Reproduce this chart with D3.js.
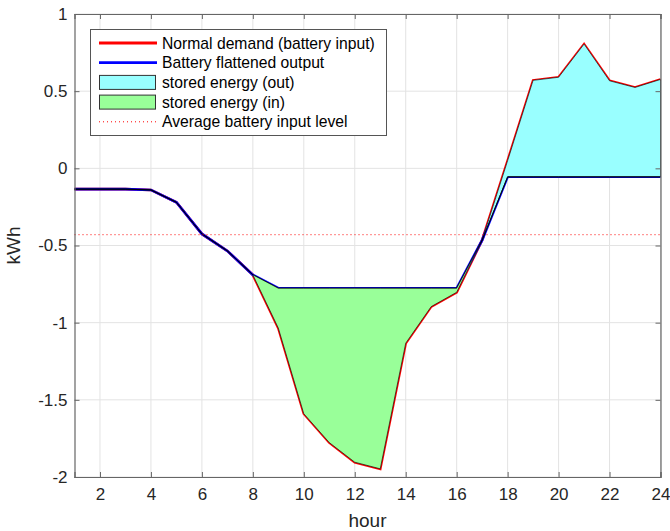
<!DOCTYPE html>
<html><head><meta charset="utf-8">
<script src="https://cdn.jsdelivr.net/npm/d3@7"></script>
<style>body{margin:0;background:#fff;} svg{display:block;font-family:"Liberation Sans",Arial,sans-serif;}</style>
</head><body>
<script>
const hours = d3.range(1, 25);
const normalDemand = [-0.135,-0.135,-0.135,-0.14,-0.22,-0.425,-0.535,-0.69,-1.035,-1.59,-1.777,-1.904,-1.947,-1.133,-0.896,-0.803,-0.465,0.05,0.57,0.59,0.805,0.567,0.524,0.576];
const flattened = [-0.135,-0.135,-0.135,-0.14,-0.22,-0.425,-0.535,-0.69,-0.777,-0.777,-0.777,-0.777,-0.777,-0.777,-0.777,-0.777,-0.465,-0.055,-0.055,-0.055,-0.055,-0.055,-0.055,-0.055];
const avgLevel = -0.43;
const xTicks = [2,4,6,8,10,12,14,16,18,20,22,24];
const yTicks = [1,0.5,0,-0.5,-1,-1.5,-2];
const legendLabels = ["Normal demand (battery input)","Battery flattened output","stored energy (out)","stored energy (in)","Average battery input level"];

const W = 670, H = 531;
const m = {left: 74.5, right: 9.5, top: 14, bottom: 54};
const svg = d3.select("body").append("svg").attr("width", W).attr("height", H);
const x = d3.scaleLinear().domain([1,24]).range([m.left, W - m.right]);
const y = d3.scaleLinear().domain([-2,1]).range([H - m.bottom, m.top]);
const axisColor = "#666", textColor = "#262626";

// grid
const g = svg.append("g");
g.selectAll(".gx").data(xTicks).join("line").attr("x1", d=>x(d)).attr("x2", d=>x(d)).attr("y1", y(-2)).attr("y2", y(1)).attr("stroke", "#e3e3e3");
g.selectAll(".gy").data(yTicks).join("line").attr("y1", d=>y(d)).attr("y2", d=>y(d)).attr("x1", x(1)).attr("x2", x(24)).attr("stroke", "#e3e3e3");

const data = hours.map((h,i)=>({h, r: normalDemand[i], b: flattened[i]}));
// lines
const line = (key)=>d3.line().x(d=>x(d.h)).y(d=>y(d[key]));
svg.append("path").datum(data).attr("d", line("r")).attr("fill","none").attr("stroke","#ff0000").attr("stroke-width",2.6);
svg.append("path").datum(data).attr("d", line("b")).attr("fill","none").attr("stroke","#0000ff").attr("stroke-width",2.6);
// fills
const outArea = d3.area().x(d=>x(d.h)).y0(d=>y(d.b)).y1(d=>y(Math.max(d.r,d.b)));
const inArea = d3.area().x(d=>x(d.h)).y0(d=>y(d.b)).y1(d=>y(Math.min(d.r,d.b)));
svg.append("path").datum(data).attr("d", outArea).attr("fill","#99ffff").attr("stroke","#000").attr("stroke-width",0.6);
svg.append("path").datum(data).attr("d", inArea).attr("fill","#99ff99").attr("stroke","#000").attr("stroke-width",0.6);
// average
svg.append("line").attr("x1", x(1)).attr("x2", x(24)).attr("y1", y(avgLevel)).attr("y2", y(avgLevel))
  .attr("stroke","#ff0000").attr("stroke-width",1).attr("stroke-dasharray","1,3");

// axes
const xb = svg.append("g").attr("transform",`translate(0,${y(-2)})`).call(d3.axisBottom(x).tickValues(xTicks).tickSize(-5).tickPadding(11));
const xt = svg.append("g").attr("transform",`translate(0,${y(1)})`).call(d3.axisTop(x).tickValues(xTicks).tickSize(-5).tickFormat(""));
const yl = svg.append("g").attr("transform",`translate(${x(1)},0)`).call(d3.axisLeft(y).tickValues(yTicks).tickSize(-5).tickPadding(7).tickFormat(d=>String(d)));
const yr = svg.append("g").attr("transform",`translate(${x(24)},0)`).call(d3.axisRight(y).tickValues(yTicks).tickSize(-5).tickFormat(""));
[xb,xt,yl,yr].forEach(a=>{
  a.selectAll(".domain").attr("stroke",axisColor).attr("stroke-width",1.2);
  a.selectAll(".tick line").attr("stroke",axisColor);
  a.selectAll("text").attr("fill",textColor).attr("font-size",17).attr("font-family","Liberation Sans, Arial, sans-serif");
});
svg.append("text").attr("x", x(12.5)).attr("y", 527).attr("text-anchor","middle").attr("font-size",19).attr("fill",textColor).text("hour");
svg.append("text").attr("transform",`translate(20,${y(-0.5)}) rotate(-90)`).attr("text-anchor","middle").attr("font-size",19).attr("fill",textColor).text("kWh");

// legend
const L = svg.append("g");
L.append("rect").attr("x",90.5).attr("y",29.5).attr("width",296).attr("height",106).attr("fill","#fff").attr("stroke","#555").attr("stroke-width",1);
const rowY = i => 43 + i*19.7;
legendLabels.forEach((t,i)=>{
  L.append("text").attr("x",162).attr("y",rowY(i)+5.5).attr("font-size",15.7).attr("fill","#000").text(t);
});
L.append("line").attr("x1",99).attr("x2",157).attr("y1",rowY(0)).attr("y2",rowY(0)).attr("stroke","#ff0000").attr("stroke-width",2.8);
L.append("line").attr("x1",99).attr("x2",157).attr("y1",rowY(1)).attr("y2",rowY(1)).attr("stroke","#0000ff").attr("stroke-width",2.8);
L.append("rect").attr("x",99.5).attr("y",rowY(2)-7).attr("width",56).attr("height",14).attr("fill","#99ffff").attr("stroke","#333").attr("stroke-width",1);
L.append("rect").attr("x",99.5).attr("y",rowY(3)-7).attr("width",56).attr("height",14).attr("fill","#99ff99").attr("stroke","#333").attr("stroke-width",1);
L.append("line").attr("x1",99).attr("x2",157).attr("y1",rowY(4)).attr("y2",rowY(4)).attr("stroke","#ff0000").attr("stroke-width",1).attr("stroke-dasharray","1,3");
</script>
</body></html>
